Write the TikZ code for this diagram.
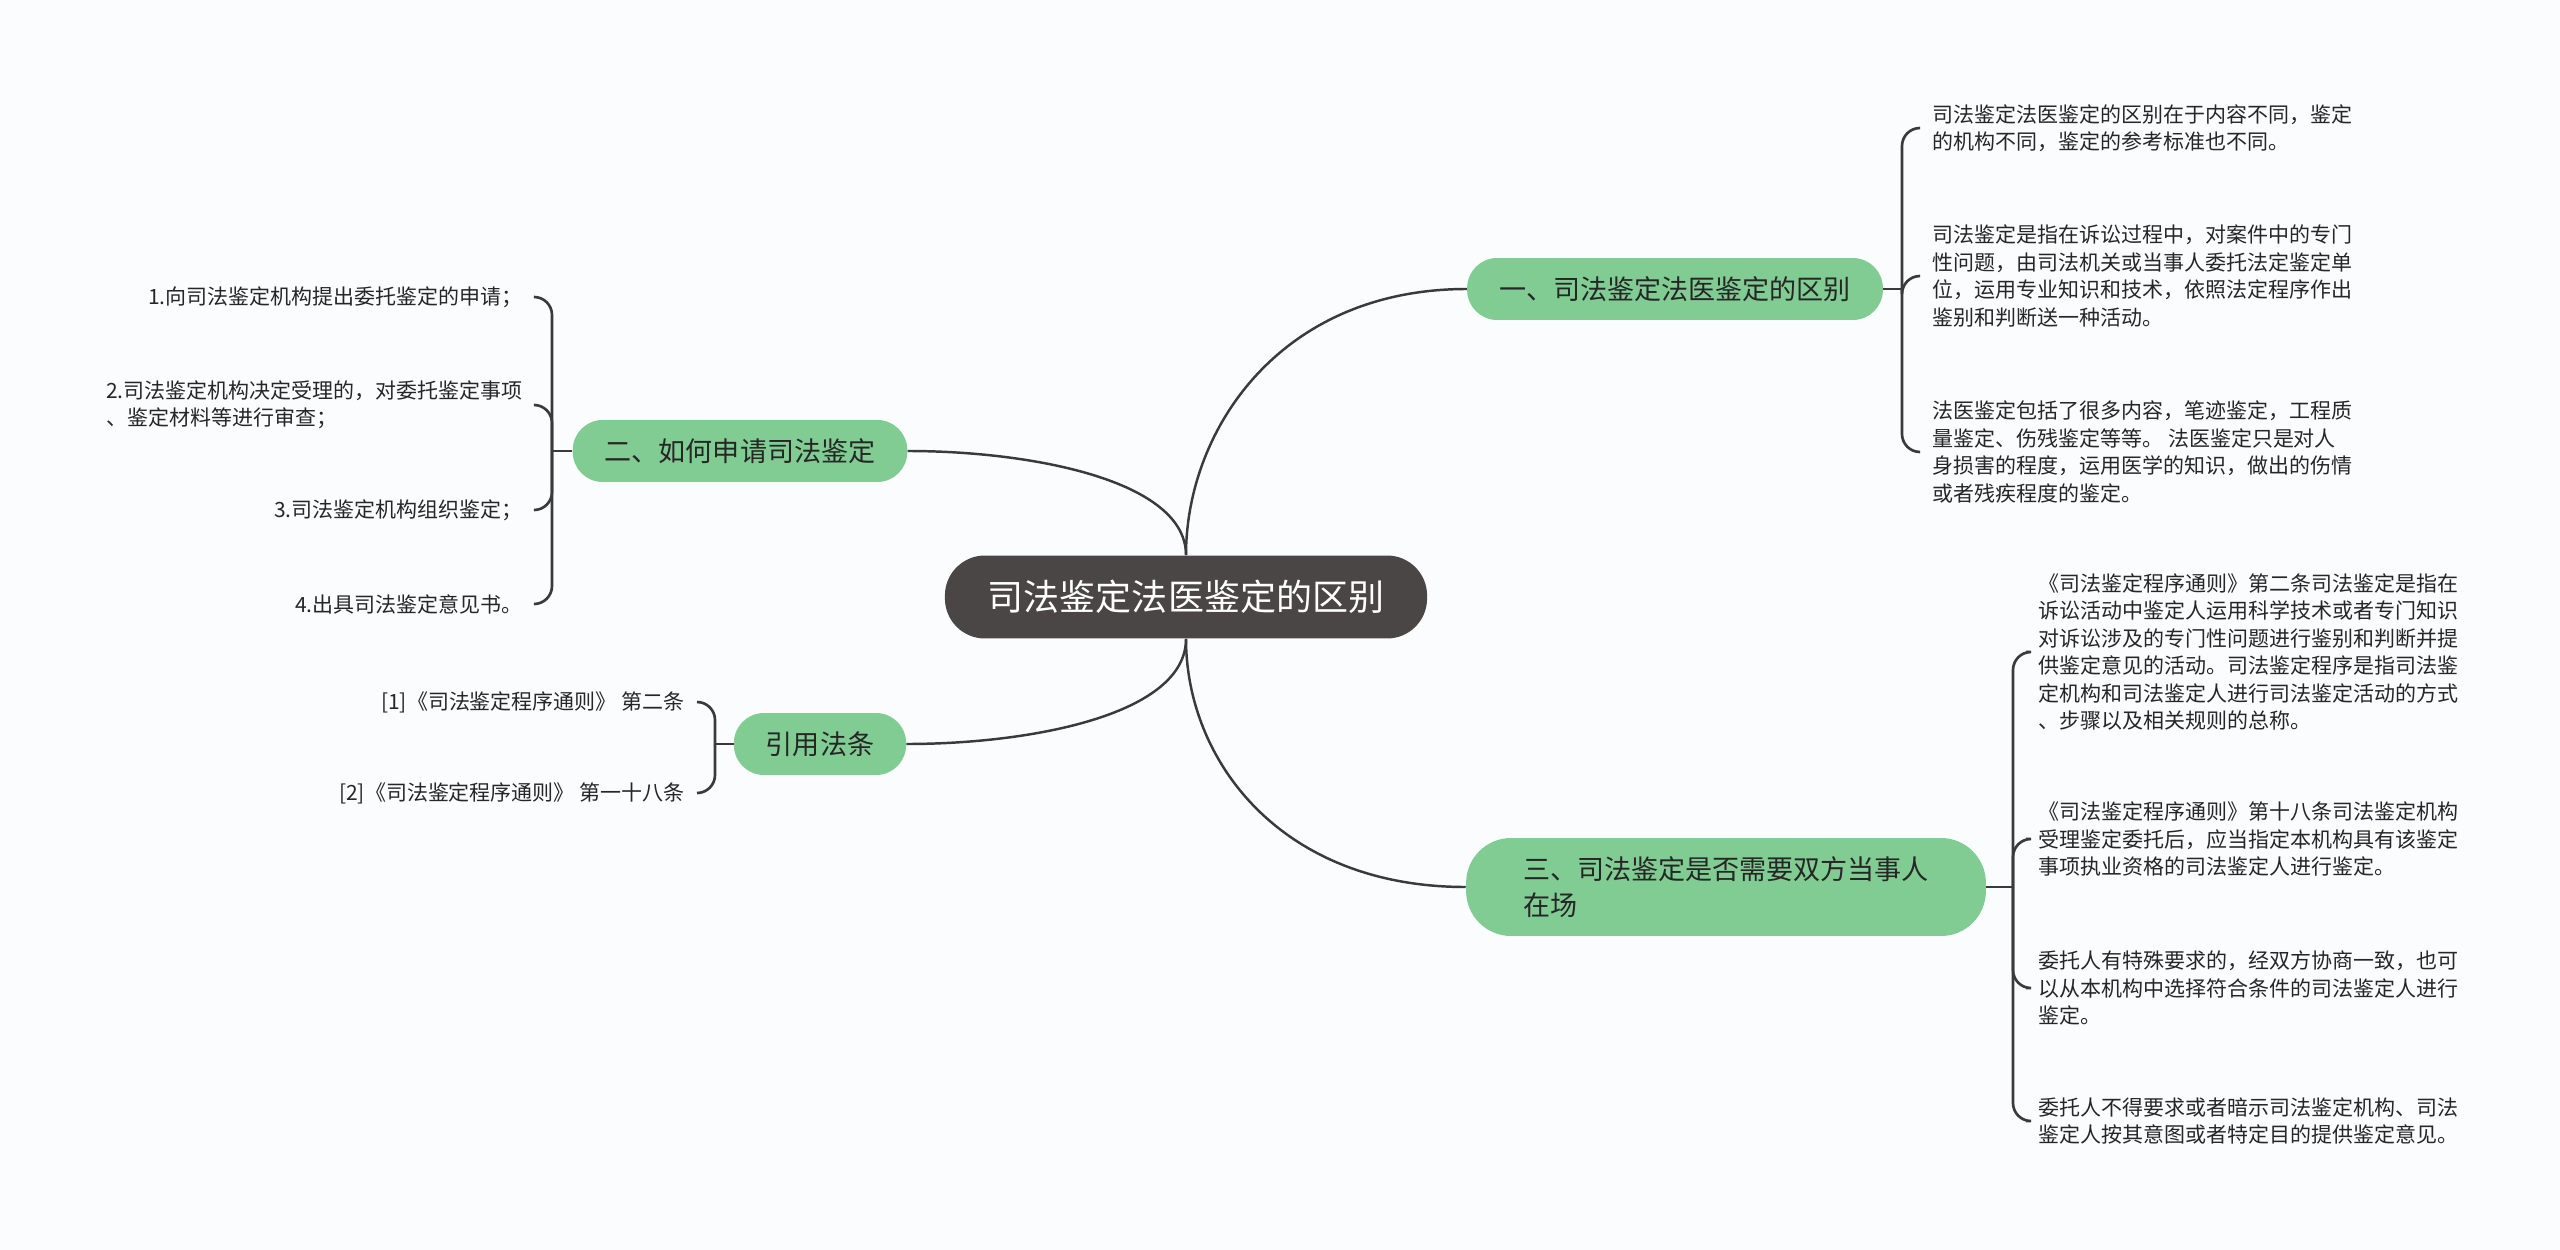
\documentclass[tikz,border=0pt]{standalone}
\usepackage{fontspec}
\setmainfont{Noto Sans CJK SC}
\usepackage{xcolor}
\definecolor{mapbg}{HTML}{FBFCFE}
\definecolor{mapdark}{RGB}{75, 70, 70}
\definecolor{mapgreen}{RGB}{128, 204, 146}
\definecolor{mapline}{RGB}{58, 58, 58}
\definecolor{maptext}{RGB}{38, 38, 38}
\usepackage{tikz}
\tikzset{
  % --- NODES ---
  root-node/.style={
    fill=mapdark,
    text=white,
    font=\fontsize{20.5}{24}\selectfont,
    rounded corners=0.8cm,
    minimum height=1.66cm,
    inner xsep=0.86cm,
    inner ysep=0pt
  },
  branch/.style={
    fill=mapgreen,
    text=maptext,
    font=\fontsize{15.4}{20.5}\selectfont,
    rounded corners=0.6cm,
    minimum height=1.24cm,
    inner xsep=0.64cm,
    inner ysep=0pt,
    align=left
  },
  branch-tall/.style={
    branch,
    rounded corners=0.9cm,
    minimum height=1.96cm,
    inner xsep=1.14cm
  },
  leaf/.style={
    text=maptext,
    font=\fontsize{11.95}{15.6}\selectfont,
    inner xsep=0.24cm,
    inner ysep=0pt,
    align=left
  },
  % --- CONNECTORS ---
  link/.style={
    draw=mapline,
    line width=1.4pt
  },
  brace/.style={
    draw=mapline,
    line width=1.5pt,
    rounded corners=0.36cm
  },
}

\begin{document}
\begin{tikzpicture}[x=0.02cm, y=-0.02cm]
  % --- canvas
  \fill[mapbg] (0,0) rectangle (2560,1250);
  % --- root and main branches
  \node[root-node] (root) at (1186, 597) {司法鉴定法医鉴定的区别};
  \node[branch]      (diff)  at (1675, 289) {一、司法鉴定法医鉴定的区别};
  \node[branch]      (apply) at (740, 451)  {二、如何申请司法鉴定};
  \node[branch]      (law)   at (820, 744)  {引用法条};
  \node[branch-tall] (both)  at (1726, 887) {三、司法鉴定是否需要双方当事人\\在场};
  \draw[link] (root.north) .. controls (1186, 430) and (1280, 289) .. (diff.west);
  \draw[link] (root.north) .. controls (1186, 480) and (1030, 451) .. (apply.east);
  \draw[link] (root.south) .. controls (1186, 715) and (1030, 744) .. (law.east);
  \draw[link] (root.south) .. controls (1186, 760) and (1280, 887) .. (both.west);
  % --- leaves of diff
  \coordinate (diff-j) at (1902, 289);
  \node[leaf, anchor=west] (diff-1) at (1920, 128) {司法鉴定法医鉴定的区别在于内容不同，鉴定\\的机构不同，鉴定的参考标准也不同。};
  \node[leaf, anchor=west] (diff-2) at (1920, 276) {司法鉴定是指在诉讼过程中，对案件中的专门\\性问题，由司法机关或当事人委托法定鉴定单\\位，运用专业知识和技术，依照法定程序作出\\鉴别和判断送一种活动。};
  \node[leaf, anchor=west] (diff-3) at (1920, 452) {法医鉴定包括了很多内容，笔迹鉴定，工程质\\量鉴定、伤残鉴定等等。 法医鉴定只是对人\\身损害的程度，运用医学的知识，做出的伤情\\或者残疾程度的鉴定。};
  \draw[link] (diff.east) -- (diff-j);
  \foreach \i in {1,2,3} \draw[brace] (diff-j) |- (diff-\i.west);
  % --- leaves of apply
  \coordinate (apply-j) at (552, 451);
  \node[leaf, anchor=east] (apply-1) at (535, 297) {1.向司法鉴定机构提出委托鉴定的申请；};
  \node[leaf, anchor=east] (apply-2) at (535, 405) {2.司法鉴定机构决定受理的，对委托鉴定事项\\、鉴定材料等进行审查；};
  \node[leaf, anchor=east] (apply-3) at (535, 510) {3.司法鉴定机构组织鉴定；};
  \node[leaf, anchor=east] (apply-4) at (535, 604) {4.出具司法鉴定意见书。};
  \draw[link] (apply.west) -- (apply-j);
  \foreach \i in {1,...,4} \draw[brace] (apply-j) |- (apply-\i.east);
  % --- leaves of law
  \coordinate (law-j) at (715, 744);
  \node[leaf, anchor=east] (law-1) at (697, 702) {[1]《司法鉴定程序通则》 第二条};
  \node[leaf, anchor=east] (law-2) at (697, 793) {[2]《司法鉴定程序通则》 第一十八条};
  \draw[link] (law.west) -- (law-j);
  \foreach \i in {1,2} \draw[brace] (law-j) |- (law-\i.east);
  % --- leaves of both
  \coordinate (both-j) at (2013, 887);
  \node[leaf, anchor=west] (both-1) at (2026, 652) {《司法鉴定程序通则》第二条司法鉴定是指在\\诉讼活动中鉴定人运用科学技术或者专门知识\\对诉讼涉及的专门性问题进行鉴别和判断并提\\供鉴定意见的活动。司法鉴定程序是指司法鉴\\定机构和司法鉴定人进行司法鉴定活动的方式\\、步骤以及相关规则的总称。};
  \node[leaf, anchor=west] (both-2) at (2026, 839) {《司法鉴定程序通则》第十八条司法鉴定机构\\受理鉴定委托后，应当指定本机构具有该鉴定\\事项执业资格的司法鉴定人进行鉴定。};
  \node[leaf, anchor=west] (both-3) at (2026, 988) {委托人有特殊要求的，经双方协商一致，也可\\以从本机构中选择符合条件的司法鉴定人进行\\鉴定。};
  \node[leaf, anchor=west] (both-4) at (2026, 1121) {委托人不得要求或者暗示司法鉴定机构、司法\\鉴定人按其意图或者特定目的提供鉴定意见。};
  \draw[link] (both.east) -- (both-j);
  \foreach \i in {1,...,4} \draw[brace] (both-j) |- (both-\i.west);
\end{tikzpicture}
\end{document}
